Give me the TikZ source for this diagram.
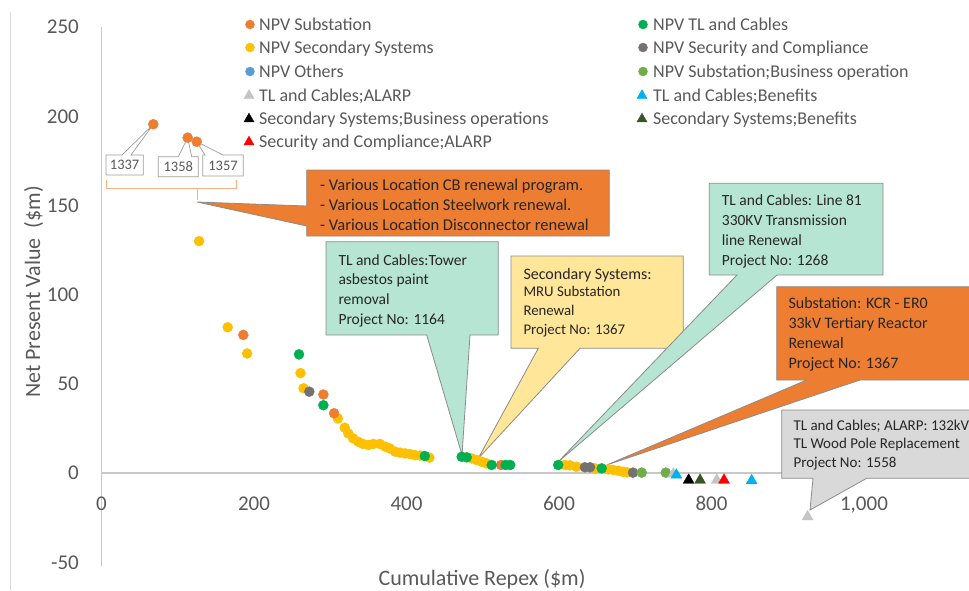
\documentclass[tikz,border=0pt]{standalone}
\usepackage{fontspec}
\setmainfont{Carlito}
\usetikzlibrary{plotmarks}

% series colours
\definecolor{cOr}{HTML}{ED7D31}
\definecolor{cYe}{HTML}{FFC000}
\definecolor{cBl}{HTML}{5B9BD5}
\definecolor{cLg}{HTML}{C4C4C4}
\definecolor{cRd}{HTML}{FF0000}
\definecolor{cGn}{HTML}{00B050}
\definecolor{cGy}{HTML}{767171}
\definecolor{cLgn}{HTML}{70AD47}
\definecolor{cCy}{HTML}{00B0F0}
\definecolor{cDg}{HTML}{375623}
% chart furniture
\definecolor{cAxis}{HTML}{C8C8C8}
\definecolor{cLabel}{HTML}{595959}
\definecolor{cText}{HTML}{262626}
\definecolor{cEdge}{HTML}{8C8C8C}
\definecolor{cTeal}{HTML}{B6E6D3}
\definecolor{cCream}{HTML}{FFE699}
\definecolor{cSilver}{HTML}{D9D9D9}
\definecolor{cBrace}{HTML}{F4B183}

\tikzset{
  axisline/.style={draw=cAxis, line width=1.1pt},
  ticklab/.style={inner sep=0, text=cLabel, font=\fontsize{21}{24}\selectfont},
  axistitle/.style={inner sep=0, text=cLabel, font=\fontsize{22}{26}\selectfont},
  legtext/.style={anchor=base west, inner sep=0, text=cLabel, font=\fontsize{18}{21}\selectfont},
  calloutbox/.style={draw=cEdge, line width=0.8pt},
  ctext/.style={anchor=base west, inner sep=0, text=cText, font=\fontsize{15.5}{19}\selectfont},
  tagbox/.style={draw=cLg!80!black, line width=0.7pt, fill=white},
  tagtext/.style={inner sep=0, text=cLabel, font=\fontsize{14.5}{17}\selectfont},
  dots/.style={draw=#1, fill=#1},
}

\begin{document}
\begin{tikzpicture}[x=1pt, y=-1pt]
\useasboundingbox[fill=white] (0,0) rectangle (969,590);

% chart area edge
\draw[draw=cSilver, line width=1pt] (10,12) -- (10,590);

% axes
\coordinate (ytop) at (101.5,27);
\coordinate (ybot) at (101.5,566);
\coordinate (xleft) at (101.5,473);
\coordinate (xright) at (969,473);
\draw[axisline] (ytop) -- (ybot);
\draw[axisline] (xleft) -- (xright);

% tick labels
\foreach \v in {250,200,150,100,50,0,-50}
  \node[ticklab, anchor=base east] (ytick\v) at (79, {473-1.784*\v+6.8}) {\v};
\foreach \v/\t in {0/0,200/200,400/400,600/600,800/800,1000/{1,000}}
  \node[ticklab, anchor=base] (xtick\v) at ({101.5+0.7625*\v}, 510) {\t};

% axis titles
\node[axistitle, anchor=base, rotate=90] (ytitle) at (40,292) {Net Present Value\ \ (\$m)};
\node[axistitle, anchor=base] (xtitle) at (482,585) {Cumulative Repex (\$m)};

% legend
\begin{scope}
  \path[dots=cOr]  plot[only marks, mark=*, mark size=4.5pt] coordinates {(250,24.5)};
  \path[dots=cYe]  plot[only marks, mark=*, mark size=4.5pt] coordinates {(250,47.5)};
  \path[dots=cBl]  plot[only marks, mark=*, mark size=4.5pt] coordinates {(250,71.5)};
  \path[dots=cLg]  plot[only marks, mark=triangle*, mark size=5.8pt] coordinates {(249,95.5)};
  \path[dots=black] plot[only marks, mark=triangle*, mark size=5.8pt] coordinates {(249,119)};
  \path[dots=cRd]  plot[only marks, mark=triangle*, mark size=5.8pt] coordinates {(249,142)};
  \node[legtext] (leg1) at (259,30.5)  {NPV Substation};
  \node[legtext] (leg2) at (259,53.5)  {NPV Secondary Systems};
  \node[legtext] (leg3) at (259,77.5)  {NPV Others};
  \node[legtext] (leg4) at (259,101)   {TL and Cables;ALARP};
  \node[legtext] (leg5) at (259,124.5) {Secondary Systems;Business operations};
  \node[legtext] (leg6) at (259,147.5) {Security and Compliance;ALARP};

  \path[dots=cGn]  plot[only marks, mark=*, mark size=4.5pt] coordinates {(643,24.5)};
  \path[dots=cGy]  plot[only marks, mark=*, mark size=4.5pt] coordinates {(643,47.5)};
  \path[dots=cLgn] plot[only marks, mark=*, mark size=4.5pt] coordinates {(643,71.5)};
  \path[dots=cCy]  plot[only marks, mark=triangle*, mark size=5.8pt] coordinates {(642,95.5)};
  \path[dots=cDg]  plot[only marks, mark=triangle*, mark size=5.8pt] coordinates {(642,119)};
  \node[legtext] (leg7)  at (653,30.5)  {NPV TL and Cables};
  \node[legtext] (leg8)  at (653,53.5)  {NPV Security and Compliance};
  \node[legtext] (leg9)  at (653,77.5)  {NPV Substation;Business operation};
  \node[legtext] (leg10) at (653,101)   {TL and Cables;Benefits};
  \node[legtext] (leg11) at (653,124.5) {Secondary Systems;Benefits};
\end{scope}

% bracket grouping the three labelled projects
\draw[draw=cBrace, line width=1.2pt] (106.7,180) -- (106.7,188.3) -- (236.7,188.3) -- (236.7,180);
\draw[draw=cBrace, line width=1.2pt] (197.3,188.3) -- (197.3,200);

% callout: various location programmes
\filldraw[calloutbox, fill=cOr] (306.7,170) -- (609.3,170) -- (609.3,236) -- (306.7,236)
  -- (306.7,226) -- (197,202) -- (306.7,206) -- cycle;
\foreach \t [count=\i] in {- Various Location CB renewal program.,- Various Location Steelwork renewal.,- Various Location Disconnector renewal}
  \node[ctext, font=\fontsize{16.5}{20}\selectfont] (various\i) at (320,{190.5+20*(\i-1)}) {\t};

% callout: tower asbestos paint removal
\filldraw[calloutbox, fill=cTeal] (326,241.7) -- (498.3,241.7) -- (498.3,335) -- (470,335)
  -- (462,455) -- (426.7,335) -- (326,335) -- cycle;
\foreach \t [count=\i] in {TL and Cables:Tower,asbestos paint,removal,Project No: 1164}
  \node[ctext] (tower\i) at (338.3,{265+19.8*(\i-1)}) {\t};

% callout: MRU substation renewal
\filldraw[calloutbox, fill=cCream] (511,256) -- (683.3,256) -- (683.3,348.3) -- (580,348.3)
  -- (478.3,458.3) -- (538.3,348.3) -- (511,348.3) -- cycle;
\node[ctext, font=\fontsize{16}{19}\selectfont] (mru1) at (523.3,279) {Secondary Systems:};
\foreach \t [count=\i from 2] in {MRU Substation,Renewal,Project No: 1367}
  \node[ctext, font=\fontsize{14.8}{18}\selectfont] (mru\i) at (523.3,{296.5+19*(\i-2)}) {\t};

% callout: line 81 transmission renewal
\filldraw[calloutbox, fill=cTeal] (709.3,183.3) -- (883,183.3) -- (883,275) -- (777,275)
  -- (558,462) -- (737,275) -- (709.3,275) -- cycle;
\foreach \t [count=\i] in {TL and Cables: Line 81,330KV Transmission,line Renewal,Project No: 1268}
  \node[ctext] (line\i) at (721.7,{205+20.3*(\i-1)}) {\t};

% callout: tertiary reactor renewal
\filldraw[calloutbox, fill=cOr] (776.7,286.7) -- (975,286.7) -- (975,380) -- (860,380)
  -- (606.7,465) -- (806.7,380) -- (776.7,380) -- cycle;
\foreach \t [count=\i] in {Substation: KCR - ER0,33kV Tertiary Reactor,Renewal,Project No: 1367}
  \node[ctext, font=\fontsize{16}{19}\selectfont] (kcr\i) at (788.3,{308.5+20*(\i-1)}) {\t};

% callout: wood pole replacement
\filldraw[calloutbox, fill=cSilver] (781.7,410) -- (975,410) -- (975,478.3) -- (866.7,478.3)
  -- (810,510) -- (813,478.3) -- (781.7,478.3) -- cycle;
\foreach \t [count=\i] in {TL and Cables; ALARP: 132kV,TL Wood Pole Replacement,Project No: 1558}
  \node[ctext, font=\fontsize{15}{18}\selectfont] (pole\i) at (793.3,{430.5+18.4*(\i-1)}) {\t};

% project number tags
\filldraw[tagbox] (106,155) -- (122,155) -- (153.3,124.3) -- (131,155) -- (143.3,155)
  -- (143.3,175) -- (106,175) -- cycle;
\node[tagtext] (tag1337) at (124.6,165) {1337};
\filldraw[tagbox] (158.3,156.7) -- (178.3,156.7) -- (187.7,137.7) -- (191.7,156.7) -- (198.3,156.7)
  -- (198.3,176.7) -- (158.3,176.7) -- cycle;
\node[tagtext] (tag1358) at (178.3,166.7) {1358};
\filldraw[tagbox] (202.7,155) -- (205,155) -- (196.7,141.7) -- (223,155) -- (243.3,155)
  -- (243.3,176) -- (202.7,176) -- cycle;
\node[tagtext] (tag1357) at (223,165.5) {1357};

% data series (x: cumulative repex, y: NPV)
\begin{scope}[shift={(101.5,473)}, x=0.7625pt, y=1.784pt]
  \path[dots=cYe] plot[only marks, mark=*, mark size=5pt] coordinates {
    (128,130) (165.5,81.7) (191,67) (261,56) (265,47.5) (310,30.6)
    (319,25.4) (323.7,22.2) (330,19.4) (336.8,17.5) (343,16.3) (350,15.7)
    (356.5,16.3) (365,16.3) (372,14.8) (378,13.8) (385,12) (391.5,11.4)
    (398,11) (404.6,10.6) (411,10) (418,9.8) (430,8.6)
    (485.5,8.2) (492,7.3) (498.6,6.3) (505,5.4)
    (608,4.5) (614.4,4.3) (623,3.5) (647,2.6) (664.6,2) (671,1.7)
    (677.8,1.3) (684,0.7) (689,0.4)};
  \path[dots=cOr] plot[only marks, mark=*, mark size=5pt] coordinates {
    (67.9,195.5) (113,188) (124.9,185.7) (186,77.4) (291,44) (305,33.5) (524,4.5)};
  \path[dots=cGn] plot[only marks, mark=*, mark size=5pt] coordinates {
    (259,66.5) (291,38) (424,9.5) (472.4,9.1) (479,8.8) (511.7,4.5)
    (530,4.5) (536,4.5) (599,4.5) (656,2.6)};
  \path[dots=cGy] plot[only marks, mark=*, mark size=5pt] coordinates {
    (272.5,45.6) (634,3.2) (640.7,3.2) (697,0.2)};
  \path[dots=cLgn] plot[only marks, mark=*, mark size=5pt] coordinates {
    (708.5,0.2) (740,0.2)};
  \path[dots=cLg] plot[only marks, mark=triangle*, mark size=6.3pt] coordinates {
    (750,-0.5) (807,-4) (926,-24.5)};
  \path[dots=cCy] plot[only marks, mark=triangle*, mark size=6.3pt] coordinates {
    (754,-1.1) (852.7,-4.3)};
  \path[dots=black] plot[only marks, mark=triangle*, mark size=6.3pt] coordinates {(770,-4)};
  \path[dots=cDg] plot[only marks, mark=triangle*, mark size=6.3pt] coordinates {(785,-4)};
  \path[dots=cRd] plot[only marks, mark=triangle*, mark size=6.3pt] coordinates {(816.4,-4)};
\end{scope}
\end{tikzpicture}
\end{document}
